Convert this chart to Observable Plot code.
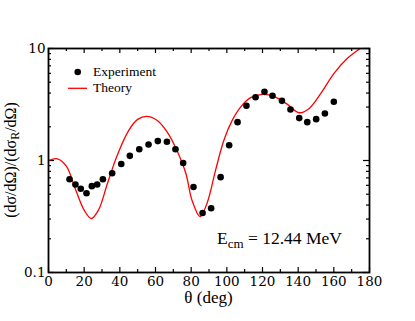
<!DOCTYPE html>
<html><head><meta charset="utf-8">
<script src="https://cdn.jsdelivr.net/npm/d3@7"></script>
<script src="https://cdn.jsdelivr.net/npm/@observablehq/plot@0.6"></script>
<style>body{margin:0;background:#fff;} #chart{position:relative;width:415px;height:321px;}
.ov{position:absolute;font-family:'Liberation Serif','Times New Roman',serif;color:#000;white-space:nowrap;line-height:1;}</style>
</head><body><div id="chart"></div>
<script>
// Experiment data
const expTheta = [11.8,15.1,18.1,21.3,24.3,27.3,30.5,35.7,40.8,45.6,50.9,56.1,61.3,66.4,71.2,75.5,81.3,86.4,91.2,96.5,101.3,106,111,116.1,121.1,125.6,130.9,135.7,140.6,145.1,150.1,155,160];
const expRatio = [0.68,0.61,0.56,0.51,0.59,0.61,0.68,0.77,0.93,1.10,1.26,1.39,1.49,1.47,1.26,0.95,0.58,0.34,0.375,0.71,1.37,2.2,3.08,3.67,4.10,3.78,3.41,2.85,2.39,2.20,2.34,2.63,3.35];
// Theory curve
const thTheta = [0,5,10,15,20,24,28,33,38.5,45,50,55,61,66.5,72,77,80.5,85,89,93.7,98.3,103,107.7,113.3,120,126.4,134,140.5,146,152.6,160,167.5,174,178];
const thRatio = [1.0,1.035,0.89,0.56,0.36,0.303,0.36,0.62,1.11,1.86,2.33,2.48,2.28,1.8,1.23,0.77,0.44,0.315,0.42,0.82,1.51,2.28,3.0,3.64,3.90,3.74,3.17,2.67,2.90,3.95,5.97,8.13,9.8,10.8];
// Ticks
const xMajor = [0,20,40,60,80,100,120,140,160,180];
const xMinor = [10,30,50,70,90,110,130,150,170];
const yMajor = [0.1,1,10];
const yLabels = ["0.1","1","10"];
const yMinor = [0.2,0.3,0.4,0.5,0.6,0.7,0.8,0.9,2,3,4,5,6,7,8,9];
// Texts
const xTitle = "θ (deg)";
const yTitleParts = ["(dσ/dΩ)/(dσ", "R", "/dΩ)"];
const legendNames = ["Experiment","Theory"];
const energyParts = ["E","cm"," = 12.44 MeV"];

const exp = expTheta.map((t,i)=>({t, v: expRatio[i]}));
const theory = thTheta.map((t,i)=>({t, v: thRatio[i]}));

const W=415, H=321, mT=48, mR=46, mB=49, mL=48;
const pw = W-mL-mR, ph = H-mT-mB;

const plot = Plot.plot({
  width: W, height: H, marginTop: mT, marginRight: mR, marginBottom: mB, marginLeft: mL,
  style: {background: "white", color: "black", overflow: "visible"},
  x: {domain: [0,180]},
  y: {type: "log", domain: [0.1,10]},
  marks: [
    Plot.axisX(xMajor, {tickSize: 0, tickPadding: 4, fontSize: 13.5, label: null, tickFormat: d => String(d)}),
    Plot.axisY(yMajor, {tickSize: 0, tickPadding: 3, fontSize: 13.5, label: null, tickFormat: d => yLabels[yMajor.indexOf(d)]}),
    Plot.ruleX(xMajor, {x: d=>d, insetTop: ph-5, stroke: "black", strokeWidth: 1.2}),
    Plot.ruleX(xMajor, {x: d=>d, insetBottom: ph-5, stroke: "black", strokeWidth: 1.2}),
    Plot.ruleX(xMinor, {x: d=>d, insetTop: ph-3, stroke: "black", strokeWidth: 1.2}),
    Plot.ruleX(xMinor, {x: d=>d, insetBottom: ph-3, stroke: "black", strokeWidth: 1.2}),
    Plot.ruleY(yMajor, {y: d=>d, insetRight: pw-6, stroke: "black", strokeWidth: 1.2}),
    Plot.ruleY(yMajor, {y: d=>d, insetLeft: pw-6, stroke: "black", strokeWidth: 1.2}),
    Plot.ruleY(yMinor, {y: d=>d, insetRight: pw-3, stroke: "black", strokeWidth: 1.2}),
    Plot.ruleY(yMinor, {y: d=>d, insetLeft: pw-3, stroke: "black", strokeWidth: 1.2}),
    Plot.line(theory, {x: "t", y: "v", stroke: "red", strokeWidth: 1.3, curve: "catmull-rom", clip: true}),
    Plot.dot(exp, {x: "t", y: "v", r: 3.3, fill: "black"}),
    Plot.frame({stroke: "black", strokeWidth: 1.8})
  ]
});

const svg = d3.select(plot);
svg.attr("font-family", "DejaVu Serif");
// legend symbols
const lg = svg.append("g");
lg.append("circle").attr("cx", 77.7).attr("cy", 72).attr("r", 3.3).attr("fill","black");
lg.append("line").attr("x1", 68).attr("x2", 87).attr("y1", 88.3).attr("y2", 88.3).attr("stroke","red").attr("stroke-width",1.3);

const chart = document.getElementById("chart");
chart.appendChild(plot);

function overlay(html, styles) {
  const d = document.createElement("div");
  d.className = "ov";
  d.innerHTML = html;
  Object.assign(d.style, styles);
  chart.appendChild(d);
  return d;
}
// legend texts (baseline ~ top + 0.837em)
overlay(legendNames[0], {left: "93px", top: (76.5 - 0.837*13.5) + "px", fontSize: "13.5px"});
overlay(legendNames[1], {left: "93px", top: (92.5 - 0.837*13.5) + "px", fontSize: "13.5px"});
// energy annotation
overlay(`${energyParts[0]}<sub style="font-size:13px;vertical-align:-4px">${energyParts[1]}</sub>${energyParts[2]}`,
  {left: "217px", top: (245 - 0.837*17.5) + "px", fontSize: "17.5px"});
// x title
overlay(xTitle, {left: (mL + pw/2) + "px", top: (303 - 0.837*17) + "px", fontSize: "17px", transform: "translateX(-50%)"});
// y title
overlay(`${yTitleParts[0]}<sub style="font-size:12px;vertical-align:-3px">${yTitleParts[1]}</sub>${yTitleParts[2]}`,
  {left: "12px", top: (mT + ph/2) + "px", fontSize: "16px", transform: "translate(-50%,-50%) rotate(-90deg)"});
</script>
</body></html>
